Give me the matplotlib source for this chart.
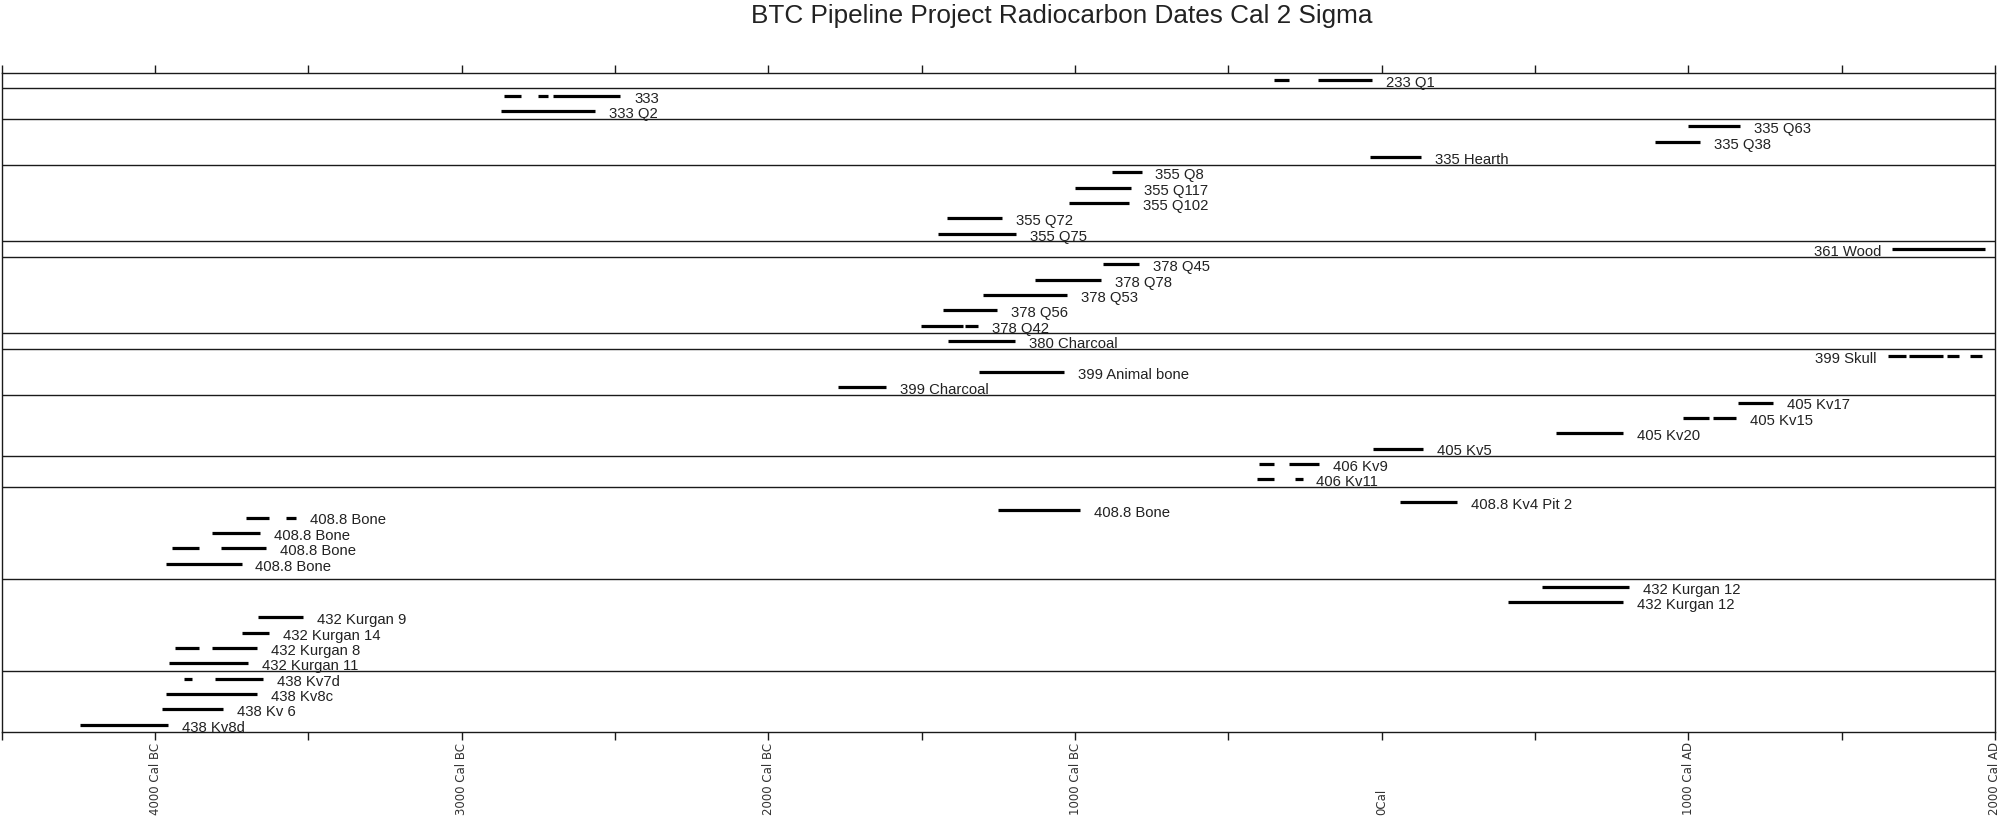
import matplotlib
matplotlib.use("Agg")
import matplotlib.pyplot as plt
import matplotlib.transforms as mtransforms
import numpy as np

# ---------------- data ----------------
title = "BTC Pipeline Project Radiocarbon Dates Cal 2 Sigma"

labels = [
    "233 Q1",
    "333", "333 Q2",
    "335 Q63", "335 Q38", "335 Hearth",
    "355 Q8", "355 Q117", "355 Q102", "355 Q72", "355 Q75",
    "361 Wood",
    "378 Q45", "378 Q78", "378 Q53", "378 Q56", "378 Q42",
    "380 Charcoal",
    "399 Skull", "399 Animal bone", "399 Charcoal",
    "405 Kv17", "405 Kv15", "405 Kv20", "405 Kv5",
    "406 Kv9", "406 Kv11",
    "408.8 Kv4 Pit 2", "408.8 Bone", "408.8 Bone", "408.8 Bone", "408.8 Bone", "408.8 Bone",
    "432 Kurgan 12", "432 Kurgan 12", "432 Kurgan 9", "432 Kurgan 14", "432 Kurgan 8", "432 Kurgan 11",
    "438 Kv7d", "438 Kv8c", "438 Kv 6", "438 Kv8d",
]

# row (plot order, top = 0)
rows = [
    0,
    1, 2,
    3, 4, 5,
    6, 7, 8, 9, 10,
    11,
    12, 13, 14, 15, 16,
    17,
    18, 19, 20,
    21, 22, 23, 24,
    25, 26,
    27.5, 28, 28.5, 29.5, 30.5, 31.5,
    33, 34, 35, 36, 37, 38,
    39, 40, 41, 42,
]

# calibrated 2-sigma ranges (years; negative = BC)
ranges = [
    [(-350, -303), (-208, -32)],
    [(-2861, -2805), (-2751, -2717), (-2701, -2483)],
    [(-2872, -2566)],
    [(1000, 1168)],
    [(892, 1038)],
    [(-38, 127)],
    [(-880, -783)],
    [(-1000, -819)],
    [(-1019, -825)],
    [(-1417, -1237)],
    [(-1446, -1192)],
    [(1665, 1968)],
    [(-910, -792)],
    [(-1130, -915)],
    [(-1300, -1025)],
    [(-1431, -1254)],
    [(-1503, -1366), (-1359, -1316)],
    [(-1413, -1196)],
    [(1650, 1709), (1721, 1831), (1843, 1883), (1920, 1958)],
    [(-1312, -1036)],
    [(-1773, -1615)],
    [(1161, 1277)],
    [(982, 1068), (1082, 1155)],
    [(570, 788)],
    [(-28, 136)],
    [(-400, -350), (-302, -205)],
    [(-407, -352), (-282, -258)],
    [(59, 245)],
    [(-1250, -985)],
    [(-3704, -3628), (-3574, -3541)],
    [(-3815, -3658)],
    [(-3945, -3857), (-3785, -3638)],
    [(-3965, -3718)],
    [(522, 806)],
    [(411, 788)],
    [(-3664, -3518)],
    [(-3715, -3628)],
    [(-3934, -3857), (-3815, -3667)],
    [(-3954, -3697)],
    [(-3904, -3880), (-3804, -3648)],
    [(-3965, -3668)],
    [(-3976, -3777)],
    [(-4246, -3957)],
]

label_on_left = ["361 Wood", "399 Skull"]

# boundaries between site groups (in row units)
group_edges = [0.5, 2.5, 5.5, 10.5, 11.5, 16.5, 17.5, 20.5, 24.5, 26.5, 32.5, 38.5]

x_min, x_max = -4500, 2000
minor_ticks = list(range(-4500, 2001, 500))
major_ticks = [-4000, -3000, -2000, -1000, 0, 1000, 2000]
major_labels = ["4000 Cal BC", "3000 Cal BC", "2000 Cal BC", "1000 Cal BC",
                "0Cal", "1000 Cal AD", "2000 Cal AD"]

# ---------------- figure ----------------
W, H = 2004, 817
fig = plt.figure(figsize=(W / 100, H / 100), dpi=100)
left_px, right_px = 1.7, 1995.0
top_px, bot_px = 72.7, 732.3
ax = fig.add_axes([left_px / W, 1 - bot_px / H, (right_px - left_px) / W, (bot_px - top_px) / H])

ax.set_xlim(x_min, x_max)
ax.set_ylim(42.5, -0.5)

label_font = ["Liberation Sans", "DejaVu Sans"]

for lab, r, segs in zip(labels, rows, ranges):
    for s, e in segs:
        ax.hlines(r, s, e, colors="black", linewidth=2.3, capstyle="butt")
    if lab in label_on_left:
        ax.annotate(lab, xy=(segs[0][0], r), xytext=(-8, -5), textcoords="offset points",
                    ha="right", va="baseline", fontsize=10.7, family=label_font, color="#222222")
    else:
        ax.annotate(lab, xy=(segs[-1][1], r), xytext=(10, -5), textcoords="offset points",
                    ha="left", va="baseline", fontsize=10.7, family=label_font, color="#222222")

for g in group_edges:
    ax.axhline(g, color="#1a1a1a", linewidth=1.0)

for sp in ax.spines.values():
    sp.set_linewidth(1.0)
    sp.set_color("#1a1a1a")

ax.set_yticks([])
ax.set_xticks(minor_ticks)
ax.tick_params(axis="x", which="both", top=True, bottom=True, direction="out",
               length=5.5, width=1.0, color="#1a1a1a", labelbottom=False, labeltop=False)

trans = mtransforms.blended_transform_factory(ax.transData, fig.transFigure)
for xv, tl in zip(major_ticks, major_labels):
    ax.text(xv, 2.0 / H, tl, transform=trans, rotation=90, ha="center", va="bottom",
            fontsize=8.5, family=["DejaVu Sans"], color="#333333", clip_on=False)

fig.text(1062 / W, 1 - 16 / H, title, ha="center", va="center", fontsize=18.8,
         family=label_font, color="#222222")

fig.savefig("out.png", dpi=100)
